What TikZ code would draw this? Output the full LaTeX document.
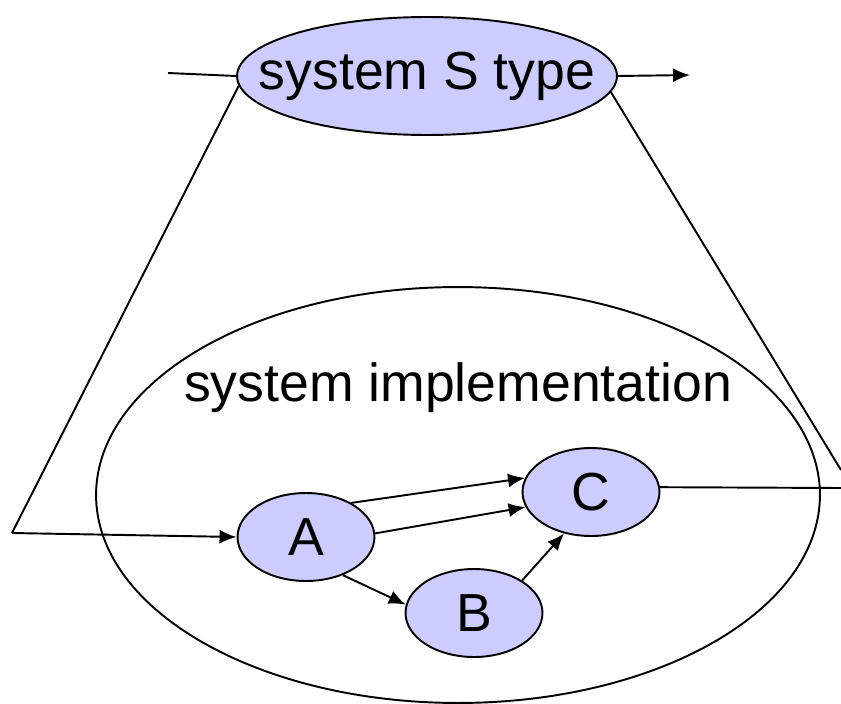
\documentclass[tikz,border=0pt]{standalone}
\usepackage{fontspec}
\setmainfont{Liberation Sans}
\usepackage{tikz}
\usetikzlibrary{shapes.geometric,arrows.meta}
\definecolor{lav}{RGB}{204,204,255}

\begin{document}
\begin{tikzpicture}[x=0.02cm,y=-0.02cm,>={Latex[length=3.4mm,width=2.8mm]},line width=1.1pt,
    big/.style={font=\fontsize{30.5}{36}\selectfont},
    blob/.style={ellipse,draw,fill=lav,inner sep=0pt,big,
      minimum width=2.74cm,minimum height=1.76cm}]
          \useasboundingbox (0,0) rectangle (841,703);
          % outer system
          \node[ellipse,draw,minimum width=14.48cm,minimum height=8.32cm] (impl) at (458,495) {};
          \node[big] (implname) at (458,388) {system implementation};
          \node[blob,minimum width=7.6cm,minimum height=2.36cm,
            label={[big]center:system S type}] (T) at (427,76) {};
          % inner components
          \node[blob] (A) at (306,537) {A};
          \node[blob] (B) at (474,613) {B};
          \node[blob] (C) at (591,492) {C};
          \coordinate (in) at (168,73);
          \coordinate (out) at (690,75);
          \coordinate (corner) at (12,533);
          \coordinate (rt) at (841,470);
          \coordinate (cout) at (841,488);
          \draw (in) -- (T.west);
          \draw[->] (T.east) -- (out);
          \draw (T.183) -- (corner);
          \draw[->] (corner) -- (A.west);
          \draw (T.355) -- (rt);
          \draw[->] (A.37) -- (C.168);
          \draw[->] (A.3) -- (C.193);
          \draw[->] (A.-46) -- (B.173);
          \draw[->] (B.34) -- (C.237);
          \draw (C.4) -- (cout);
        \end{tikzpicture}
\end{document}
